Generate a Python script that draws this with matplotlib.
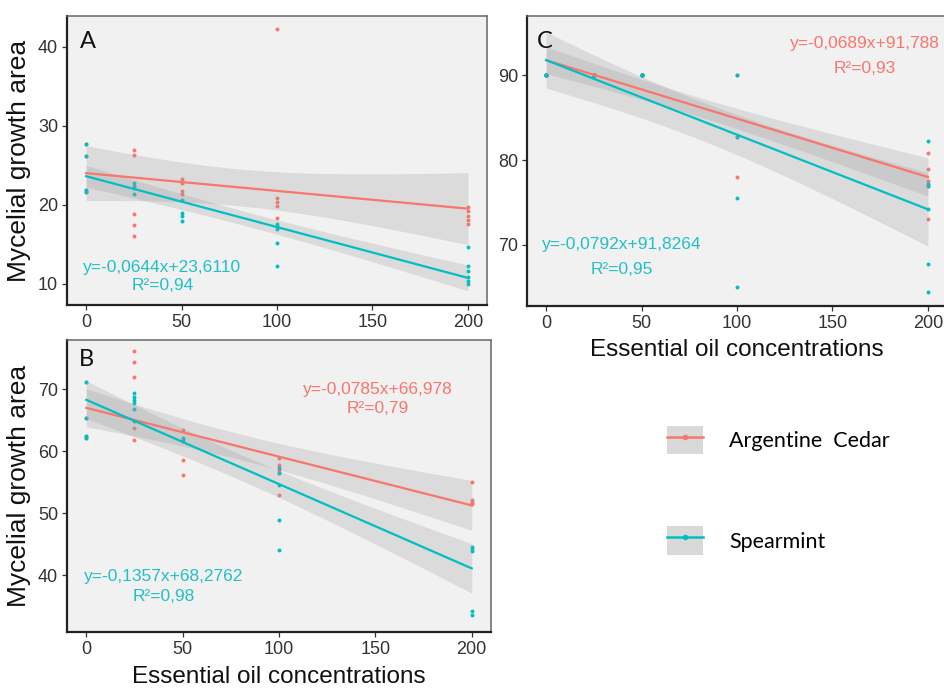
import numpy as np
import matplotlib
matplotlib.use("Agg")
import matplotlib.pyplot as plt
from matplotlib.patches import Patch
from matplotlib.lines import Line2D

# essential oil concentrations (x)
conc = [0, 25, 50, 100, 200]

# mycelial growth area, one list of replicates per concentration
cedar_a = [[27.7, 26.2, 21.9, 21.6], [26.9, 26.3, 18.8, 17.4, 16.1], [23.2, 22.7, 21.7, 21.3],
           [42.2, 20.8, 20.3, 19.8, 18.3], [19.7, 19.2, 18.6, 18.1, 17.6]]
mint_a = [[27.7, 26.2, 21.9, 21.6], [22.8, 22.4, 22.1, 21.4], [20.6, 19.0, 18.6, 17.9],
          [17.6, 17.3, 16.9, 15.2, 12.3], [14.7, 12.2, 11.6, 10.9, 10.3, 9.9]]

cedar_b = [[71.2, 65.4, 62.5, 62.1], [76.2, 74.3, 72.0, 63.7, 61.8], [63.4, 62.0, 58.6, 56.1],
           [58.9, 57.8, 57.0, 56.5, 53.0], [55.0, 52.1, 51.9, 51.7, 51.5]]
mint_b = [[71.2, 65.4, 62.5, 62.1], [69.4, 68.8, 68.3, 67.7, 66.8, 64.9], [62.1, 61.6],
          [57.3, 56.5, 54.6, 49.0, 44.1], [44.6, 44.3, 44.0, 34.2, 33.7]]

# full plates (90) overlap at the low concentrations
cedar_c = [[90.0, 90.0, 90.0, 90.0, 90.0], [90.0, 90.0, 90.0, 90.0, 90.0],
           [90.0, 90.0, 90.0, 90.0, 90.0], [90.0, 82.7, 78.0], [80.8, 79.0, 77.6, 77.0, 73.1]]
mint_c = [[90.0, 90.0, 90.0, 90.0, 90.0], [90.0, 90.0, 90.0, 90.0, 90.0],
          [90.0, 90.0, 90.0, 90.0, 90.0], [90.0, 82.7, 75.5, 65.0],
          [82.2, 77.2, 76.9, 74.2, 67.7, 64.5]]

fit_cedar_a = (-0.0225, 24.0)
fit_mint_a = (-0.0644, 23.611)
fit_cedar_b = (-0.0785, 66.978)
fit_mint_b = (-0.1357, 68.2762)
fit_cedar_c = (-0.0689, 91.788)
fit_mint_c = (-0.088, 91.8)

eq_mint_a = ["y=-0,0644x+23,6110", "R²=0,94"]
eq_cedar_b = ["y=-0,0785x+66,978", "R²=0,79"]
eq_mint_b = ["y=-0,1357x+68,2762", "R²=0,98"]
eq_cedar_c = ["y=-0,0689x+91,788", "R²=0,93"]
eq_mint_c = ["y=-0,0792x+91,8264", "R²=0,95"]

series_names = ["Argentine  Cedar", "Spearmint"]

RED = "#F8766D"
TEAL = "#00BFC4"
TXT_TEAL = "#22C0C5"
BG = "#F1F1F1"
ARIAL = "Liberation Sans"
CALIBRI = "Lato"


def t975(df):
    # student t 97.5% quantile (Cornish-Fisher approx), no scipy here
    z = 1.959964
    return z + (z**3 + z) / (4 * df) + (5 * z**5 + 16 * z**3 + 3 * z) / (96 * df**2)


def points(ax, reps, color):
    x = np.repeat(conc, [len(r) for r in reps])
    y = np.concatenate(reps)
    ax.scatter(x, y, s=8, color=color, linewidths=0, zorder=2)


def smooth(ax, reps, coef, color):
    x = np.repeat(conc, [len(r) for r in reps]).astype(float)
    y = np.concatenate(reps)
    slope, icpt = coef
    n = len(x)
    s = np.sqrt(np.sum((y - (icpt + slope * x))**2) / (n - 2))
    xx = np.linspace(0, 200, 120)
    yy = icpt + slope * xx
    se = s * np.sqrt(1 / n + (xx - x.mean())**2 / np.sum((x - x.mean())**2))
    ax.fill_between(xx, yy - t975(n - 2) * se, yy + t975(n - 2) * se,
                    color="#9a9a9a", alpha=0.25, lw=0, zorder=3)
    ax.plot(xx, yy, color=color, lw=1.6, zorder=4)


def style(ax, ylim, yticks, letter, letter_pos):
    ax.set_facecolor(BG)
    ax.set_xlim(-10, 210)
    ax.set_ylim(*ylim)
    ax.set_xticks([0, 50, 100, 150, 200])
    ax.set_yticks(yticks)
    for sp in ["top", "right"]:
        ax.spines[sp].set_color("#666666")
        ax.spines[sp].set_linewidth(1.1)
    for sp in ["left", "bottom"]:
        ax.spines[sp].set_color("#222222")
        ax.spines[sp].set_linewidth(1.6)
    ax.tick_params(length=3.5, width=0.9, color="#333333", labelsize=13,
                   labelcolor="#333333", pad=3)
    for lab in ax.get_xticklabels() + ax.get_yticklabels():
        lab.set_fontfamily(ARIAL)
    ax.text(letter_pos[0], letter_pos[1], letter, transform=ax.transAxes,
            fontsize=17, family=CALIBRI, ha="center", va="center", color="#111111")


def panel(ax, cedar, mint, fc, fm):
    points(ax, cedar, RED)
    points(ax, mint, TEAL)
    smooth(ax, cedar, fc, RED)
    smooth(ax, mint, fm, TEAL)


fig = plt.figure(figsize=(9.44, 6.91), dpi=100)
W, H = 944, 691
ax_a = fig.add_axes([67 / W, 1 - 305 / H, 420 / W, 289 / H])
ax_b = fig.add_axes([67 / W, 1 - 632 / H, 424 / W, 292 / H])
ax_c = fig.add_axes([527 / W, 1 - 306 / H, 420 / W, 290 / H])

panel(ax_a, cedar_a, mint_a, fit_cedar_a, fit_mint_a)
panel(ax_b, cedar_b, mint_b, fit_cedar_b, fit_mint_b)
panel(ax_c, cedar_c, mint_c, fit_cedar_c, fit_mint_c)

style(ax_a, (7.3, 43.9), [10, 20, 30, 40], "A", (0.049, 0.912))
style(ax_b, (30.9, 77.9), [40, 50, 60, 70], "B", (0.046, 0.933))
style(ax_c, (62.8, 97.0), [70, 80, 90], "C", (0.043, 0.912))

eq_kw = dict(fontsize=12.5, family=ARIAL, ha="center", va="center", zorder=6)
ax_a.text(40, 12.0, eq_mint_a[0], color=TXT_TEAL, **eq_kw)
ax_a.text(40, 9.8, eq_mint_a[1], color=TXT_TEAL, **eq_kw)
ax_b.text(151, 70.0, eq_cedar_b[0], color=RED, **eq_kw)
ax_b.text(151, 66.8, eq_cedar_b[1], color=RED, **eq_kw)
ax_b.text(40, 39.9, eq_mint_b[0], color=TXT_TEAL, **eq_kw)
ax_b.text(40, 36.6, eq_mint_b[1], color=TXT_TEAL, **eq_kw)
ax_c.text(167, 93.8, eq_cedar_c[0], color=RED, **eq_kw)
ax_c.text(167, 90.8, eq_cedar_c[1], color=RED, **eq_kw)
ax_c.text(39.5, 70.0, eq_mint_c[0], color=TXT_TEAL, **eq_kw)
ax_c.text(39.5, 67.1, eq_mint_c[1], color=TXT_TEAL, **eq_kw)

lab_kw = dict(family=ARIAL, color="#111111")
ax_a.set_ylabel("Mycelial growth area", labelpad=5, fontsize=19, **lab_kw)
ax_b.set_ylabel("Mycelial growth area", labelpad=5, fontsize=19, **lab_kw)
ax_b.set_xlabel("Essential oil concentrations", labelpad=6, fontsize=17.5, **lab_kw)
ax_c.set_xlabel("Essential oil concentrations", labelpad=5, fontsize=17.5, **lab_kw)

handles = [(Patch(facecolor="#d9d9d9", edgecolor="none"),
            Line2D([], [], color=c, lw=1.8, marker="o", markersize=4, markeredgewidth=0))
           for c in (RED, TEAL)]
fig.legend(handles, series_names, loc="upper left", bbox_to_anchor=(667 / W, 1 - 426 / H),
           frameon=False, borderpad=0, borderaxespad=0, handlelength=1.65, handleheight=1.65,
           handletextpad=1.25, labelspacing=3.35, prop={"family": CALIBRI, "size": 15.5})

fig.savefig("out.png", dpi=100)
